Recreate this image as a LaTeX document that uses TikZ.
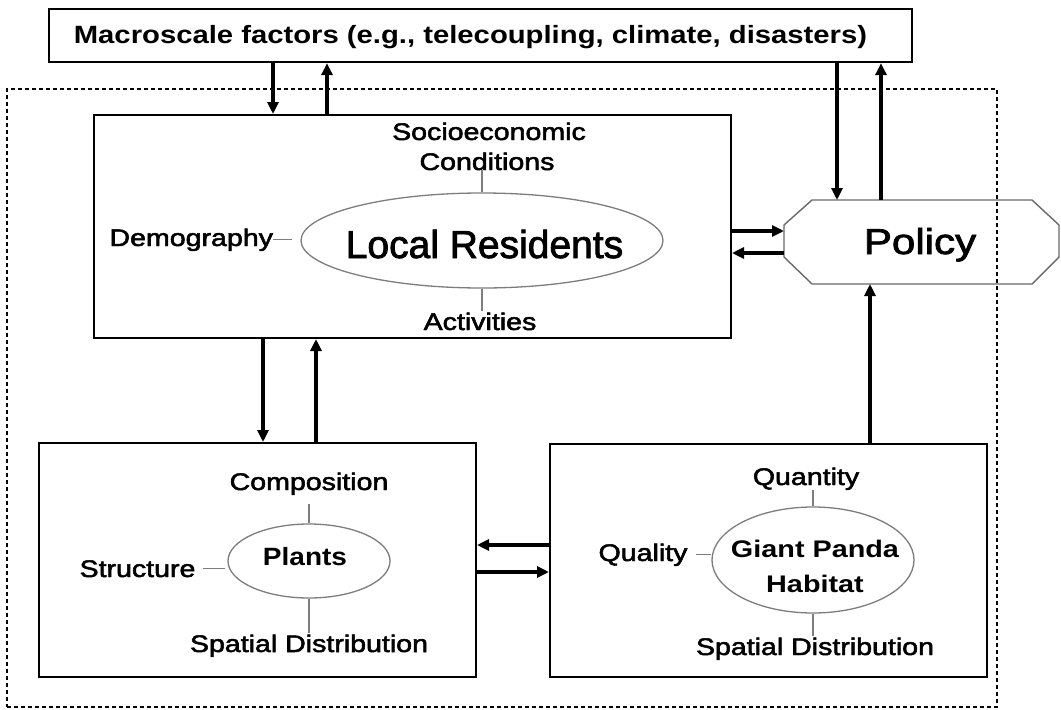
\documentclass[tikz,border=0pt]{standalone}
\usepackage{fontspec}
\setmainfont{Liberation Sans}
\newfontfamily\medfont{Liberation Sans}[FakeBold=2]
\usepackage{graphicx}
\usetikzlibrary{arrows.meta,shapes.geometric}
\newcommand{\hsc}[2][1.19]{\scalebox{#1}[1]{#2}}
\definecolor{ovalgray}{RGB}{125,125,125}
\definecolor{polgray}{RGB}{105,105,105}
\begin{document}
\begin{tikzpicture}[x=1pt,y=-1pt,
  box/.style={draw=black,line width=2pt,rectangle,inner sep=0pt},
  oval/.style={draw=ovalgray,line width=1.3pt,ellipse,inner sep=0pt},
  lbl/.style={inner sep=0pt,outer sep=0pt,anchor=base,font=\fontsize{24}{30}\medfont},
  tie/.style={draw=ovalgray,line width=1.2pt},
  flow/.style={line width=3.5pt,-{Triangle[length=12pt,width=11pt]}},
  frame/.style={draw=black,line width=1.5pt,dash pattern=on 4pt off 3pt,rectangle,inner sep=0pt}]
\useasboundingbox (0,0) rectangle (1061,710);
\fill[white] (0,0) rectangle (1061,710);

% positions of connectors
\coordinate (xa) at (273,0);
\coordinate (xb) at (327,0);
\coordinate (xc) at (837,0);
\coordinate (xd) at (881,0);
\coordinate (xe) at (263,0);
\coordinate (xf) at (316,0);
\coordinate (xg) at (870,0);
\coordinate (ya) at (0,231);
\coordinate (yb) at (0,253);
\coordinate (yc) at (0,545);
\coordinate (yd) at (0,572);

% outer dashed frame
\node[frame,minimum width=990pt,minimum height=618pt] (frm) at (502,398) {};

% macroscale box
\node[box,line width=2.3pt,minimum width=863pt,minimum height=53pt] (top) at (480.5,35.5) {};
\node[inner sep=0pt,anchor=base,font=\fontsize{25}{30}\selectfont\bfseries] (toptext) at (470.5,43)
  {\hsc[1.17]{Macroscale factors (e.g., telecoupling, climate, disasters)}};

% local residents
\node[box,minimum width=637pt,minimum height=223pt] (lr) at (412.5,226.5) {};
\node[oval,minimum width=362pt,minimum height=95pt] (lrell) at (482,240.5) {};
\node[inner sep=0pt,anchor=base,font=\fontsize{39}{45}\medfont] (lrtext) at (484.5,258) {Local Residents};
\node[lbl] (soc1) at (489,140) {\hsc{Socioeconomic}};
\node[lbl] (soc2) at (487,170) {\hsc{Conditions}};
\node[lbl] (act) at (480,330) {\hsc{Activities}};
\node[lbl,anchor=base east] (dem) at (273,246) {\hsc{Demography}};
\draw[tie] (lrell.north) -- (lrell.north |- soc2.south);
\draw[tie,shorten >=2pt] (lrell.south) -- (lrell.south |- act.north);
\draw[tie,shorten >=8pt] (dem.east) -- (dem.east -| lrell.west);

% policy
\node[inner sep=0pt,outer sep=0pt,minimum width=275pt,minimum height=84pt] (pol) at (921.5,242) {};
\draw[draw=polgray,line width=1.4pt] (812,200) -- (1032,200) -- (1059,225) -- (1059,257) -- (1032,284)
  -- (812,284) -- (784,257) -- (784,225) -- cycle;
\node[inner sep=0pt,anchor=base,font=\fontsize{36}{40}\medfont] (poltext) at (920,254) {\hsc[1.17]{Policy}};

% plants
\node[box,minimum width=437pt,minimum height=234pt] (pl) at (257.5,560) {};
\node[oval,minimum width=162pt,minimum height=74pt] (plell) at (309,561) {};
\node[inner sep=0pt,anchor=base,font=\fontsize{25}{30}\selectfont\bfseries] (pltext) at (305,565) {\hsc[1.12]{Plants}};
\node[lbl] (comp) at (309,490) {\hsc{Composition}};
\node[lbl] (struct) at (137.5,577) {\hsc{Structure}};
\node[lbl] (sd1) at (309,652) {\hsc{Spatial Distribution}};
\draw[tie,shorten >=9pt] (plell.north) -- (plell.north |- comp.south);
\draw[tie,shorten <=8pt,shorten >=2pt] (struct.east) -- (struct.east -| plell.west);
\draw[tie,shorten >=2pt] (plell.south) -- (plell.south |- sd1.north);

% giant panda habitat
\node[box,minimum width=437pt,minimum height=233pt] (hb) at (768.5,560.5) {};
\node[oval,minimum width=202pt,minimum height=106pt] (hbell) at (813,560) {};
\node[inner sep=0pt,anchor=base,font=\fontsize{24}{30}\selectfont\bfseries] (gp1) at (815,557) {\hsc[1.2]{Giant Panda}};
\node[inner sep=0pt,anchor=base,font=\fontsize{24}{30}\selectfont\bfseries] (gp2) at (815,592) {\hsc[1.2]{Habitat}};
\node[lbl] (quan) at (806,485) {\hsc{Quantity}};
\node[lbl] (qual) at (643,561) {\hsc{Quality}};
\node[lbl] (sd2) at (815,655) {\hsc{Spatial Distribution}};
\draw[tie] (hbell.north) -- (hbell.north |- quan.south);
\draw[tie,shorten <=9pt] (qual.east) -- (qual.east -| hbell.west);
\draw[tie,shorten >=2pt] (hbell.south) -- (hbell.south |- sd2.north);

% flows
\draw[flow] (top.south -| xa) -- (lr.north -| xa);
\draw[flow] (lr.north -| xb) -- (top.south -| xb);
\draw[flow] (top.south -| xc) -- (pol.north -| xc);
\draw[flow] (pol.north -| xd) -- (top.south -| xd);
\draw[flow] (lr.east |- ya) -- (pol.west |- ya);
\draw[flow] (pol.west |- yb) -- (lr.east |- yb);
\draw[flow] (lr.south -| xe) -- (pl.north -| xe);
\draw[flow] (pl.north -| xf) -- (lr.south -| xf);
\draw[flow] (hb.west |- yc) -- (pl.east |- yc);
\draw[flow] (pl.east |- yd) -- (hb.west |- yd);
\draw[flow] (hb.north -| xg) -- (pol.south -| xg);
\end{tikzpicture}
\end{document}
